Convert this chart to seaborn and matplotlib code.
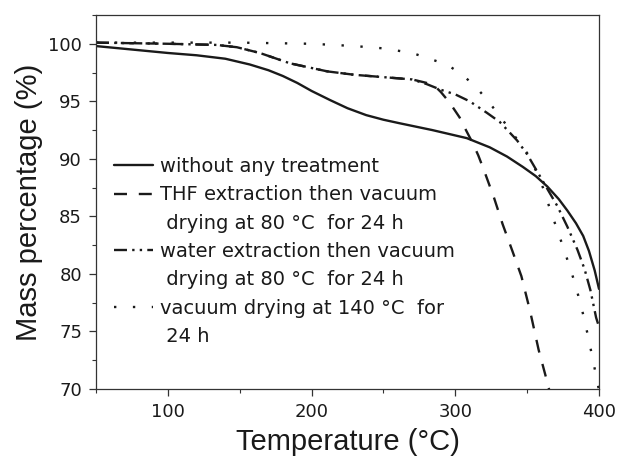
import numpy as np
import pandas as pd
import matplotlib
matplotlib.use("Agg")
import matplotlib.pyplot as plt
from matplotlib.lines import Line2D
from matplotlib.ticker import MultipleLocator
import seaborn as sns

# ---- data ----
x_none = [50, 75, 100, 120, 140, 157, 170, 180, 190, 200, 213, 225, 238, 250, 261, 284, 308, 324, 336, 347, 356, 364, 372, 378, 384, 389, 393, 397, 400]
y_none = [99.8, 99.5, 99.2, 99.0, 98.7, 98.2, 97.7, 97.2, 96.6, 95.9, 95.1, 94.4, 93.8, 93.4, 93.1, 92.5, 91.8, 91.0, 90.2, 89.3, 88.5, 87.6, 86.5, 85.5, 84.4, 83.3, 82.0, 80.3, 78.7]

x_thf = [50, 100, 134, 148, 164, 185, 211, 230, 250, 270, 280, 286, 290, 296, 303, 307, 312, 316, 320, 327, 333, 340, 346, 352, 358, 364, 368]
y_thf = [100.1, 100.0, 99.9, 99.7, 99.2, 98.3, 97.6, 97.3, 97.1, 96.9, 96.6, 96.3, 95.8, 94.9, 93.6, 92.6, 91.4, 90.3, 89.0, 86.6, 84.3, 81.9, 79.8, 76.8, 73.4, 70.6, 68.6]

x_water = [50, 100, 134, 148, 164, 185, 211, 230, 250, 270, 280, 290, 300, 310, 322, 331, 343, 350, 357, 364, 371, 378, 385, 390, 394, 398, 400]
y_water = [100.1, 100.0, 99.9, 99.7, 99.2, 98.3, 97.6, 97.3, 97.1, 96.9, 96.5, 96.0, 95.6, 95.0, 94.0, 93.2, 91.6, 90.4, 88.9, 87.4, 85.9, 84.1, 82.1, 80.4, 78.6, 76.2, 75.4]

x_vac = [50, 100, 150, 200, 230, 250, 270, 282, 294, 304, 314, 323, 331, 343, 350, 356, 361, 366, 371, 376, 383, 388, 392, 396, 399, 401]
y_vac = [100.1, 100.1, 100.1, 100.0, 99.8, 99.6, 99.2, 98.7, 98.2, 97.4, 96.3, 95.0, 93.7, 91.7, 90.5, 89.0, 87.5, 85.6, 83.8, 82.0, 79.3, 77.0, 74.8, 72.4, 70.5, 69.3]

labels = [
    "without any treatment",
    "THF extraction then vacuum",
    " drying at 80 \u00b0C  for 24 h",
    "water extraction then vacuum",
    " drying at 80 \u00b0C  for 24 h",
    "vacuum drying at 140 \u00b0C  for",
    " 24 h",
]
x_ticks = [100, 200, 300, 400]
y_ticks = [70, 75, 80, 85, 90, 95, 100]

# ---- style ----
sns.set_theme(style="ticks")
plt.rcParams["font.family"] = ["DejaVu Sans"]

W, H = 618, 465
fig = plt.figure(figsize=(W / 100, H / 100), dpi=100)
ax = fig.add_axes([96 / W, 1 - 389 / H, (599 - 96) / W, (389 - 15) / H])

ink = "#1a1a1a"
lw = 1.7
styles = [
    dict(linestyle="-"),
    dict(linestyle=(0, (5.5, 5))),
    dict(linestyle=(0, (5.5, 2.2, 1.0, 2.2, 1.0, 2.2))),
    dict(linestyle=(0, (1.0, 7.0))),
]
series = [(x_none, y_none), (x_thf, y_thf), (x_water, y_water), (x_vac, y_vac)]
for (xs, ys), st in zip(series, styles):
    df = pd.DataFrame({"T": xs, "m": ys})
    sns.lineplot(data=df, x="T", y="m", ax=ax, color=ink, linewidth=lw,
                 sort=False, estimator=None, **st)

ax.set_xlim(50, 400)
ax.set_ylim(70, 102.5)
ax.set_xticks(x_ticks)
ax.set_yticks(y_ticks)
ax.xaxis.set_minor_locator(MultipleLocator(50))
ax.yaxis.set_minor_locator(MultipleLocator(2.5))
ax.tick_params(which="major", direction="out", length=5, width=0.9, color="#333333",
               labelsize=13, pad=5, labelcolor=ink)
ax.tick_params(which="minor", direction="out", length=3, width=0.8, color="#333333")
for sp in ax.spines.values():
    sp.set_visible(True)
    sp.set_linewidth(0.9)
    sp.set_color("#333333")

ax.set_xlabel("Temperature (\u00b0C)", fontsize=21, family="Liberation Sans", color=ink, labelpad=5)
ax.set_ylabel("Mass percentage (%)", fontsize=21, family="Liberation Sans", color=ink, labelpad=4)

# legend with continuation rows
h = [Line2D([], [], color=ink, linewidth=lw, **styles[0]),
     Line2D([], [], color=ink, linewidth=lw, **styles[1]),
     Line2D([], [], linewidth=0),
     Line2D([], [], color=ink, linewidth=lw, **styles[2]),
     Line2D([], [], linewidth=0),
     Line2D([], [], color=ink, linewidth=lw, **styles[3]),
     Line2D([], [], linewidth=0)]
leg = ax.legend(h, labels, loc="upper left", bbox_to_anchor=(0.035, 0.62),
                frameon=False, fontsize=14, handlelength=2.05, handletextpad=0.35,
                labelspacing=0.48, borderpad=0, borderaxespad=0)
for t in leg.get_texts():
    t.set_color(ink)

fig.savefig("out.png", dpi=100)
